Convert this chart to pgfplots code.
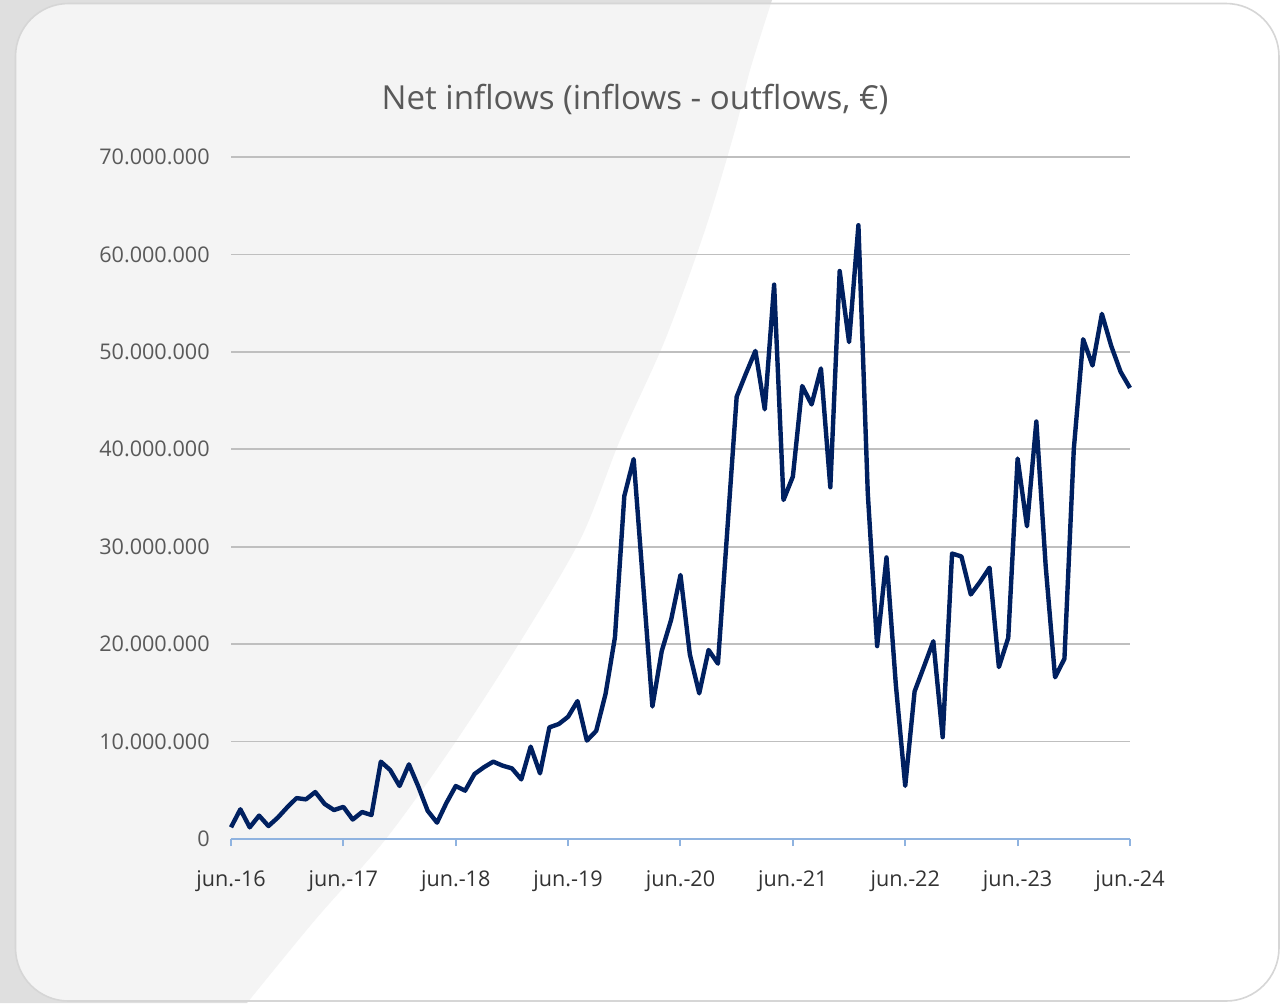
\documentclass[border=0pt]{standalone}
\usepackage{pgfplots}
\pgfplotsset{compat=1.18}
\usepackage{fontspec}
\setmainfont{Open Sans}
\definecolor{navy}{HTML}{002060}
\definecolor{axisblue}{HTML}{8FB3E0}
\definecolor{gridgrey}{HTML}{BFBFBF}
\definecolor{labgrey}{HTML}{595959}
\definecolor{xlab}{HTML}{333333}
\definecolor{outergrey}{HTML}{DFDFDF}
\definecolor{innergrey}{HTML}{F4F4F4}
\definecolor{cardborder}{HTML}{D6D6D6}
\begin{document}
\begin{tikzpicture}
\begin{scope}[x=0.5pt,y=-0.5pt]
\path[use as bounding box] (0,0) rectangle (1281,1003);
\fill[white] (0,0) rectangle (1281,1003);
\fill[outergrey] (0,0) -- plot[smooth] coordinates {(772,0) (750,70) (735,130) (705,230) (665,340) (620,440) (580,540) (515,650) (450,750) (385,840) (315,920) (247,1003)} -- (0,1003) -- cycle;
\begin{scope}
\clip[rounded corners=26.5pt] (15.5,3.5) rectangle (1279,1001);
\fill[white] (0,0) rectangle (1281,1003);
\fill[innergrey] (0,0) -- plot[smooth] coordinates {(772,0) (750,70) (735,130) (705,230) (665,340) (620,440) (580,540) (515,650) (450,750) (385,840) (315,920) (247,1003)} -- (0,1003) -- cycle;
\end{scope}
\draw[cardborder, line width=0.8pt, rounded corners=26.5pt] (15.5,3.5) rectangle (1279,1001);
\node[anchor=base, text=labgrey, font=\fontsize{16.55}{19}\selectfont, inner sep=0pt] at (635,109.3) {Net inflows (inflows - outflows, €)};
\end{scope}
\begin{axis}[
  at={(115.5pt,-419.5pt)}, anchor=south west,
  scale only axis, width=449.5pt, height=341pt,
  xmin=0, xmax=96, ymin=0, ymax=70,
  clip=false,
  axis lines*=left,
  x axis line style={draw=axisblue, line width=1pt},
  y axis line style={draw=none},
  xtick={0,12,24,36,48,60,72,84,96},
  xticklabels={jun.-16,jun.-17,jun.-18,jun.-19,jun.-20,jun.-21,jun.-22,jun.-23,jun.-24},
  ytick={0,10,20,30,40,50,60,70},
  yticklabels={0,10.000.000,20.000.000,30.000.000,40.000.000,50.000.000,60.000.000,70.000.000},
  tick align=outside,
  major tick length=3.5pt,
  x tick style={draw=axisblue, line width=1pt},
  y tick style={draw=none},
  ymajorgrids,
  grid style={draw=gridgrey, line width=0.9pt},
  xticklabel style={anchor=base, inner sep=0pt, yshift=-20pt, text=xlab, font=\fontsize{10.8}{13}\selectfont},
  yticklabel style={anchor=east, inner sep=0pt, xshift=-7pt, text=labgrey, font=\fontsize{10.8}{13}\selectfont},
]
\addplot[navy, line width=2.2pt, line join=round, no marks] table {
x y
0 1.2
1 3.05
2 1.2
3 2.4
4 1.33
5 2.2
6 3.25
7 4.2
8 4.07
9 4.82
10 3.6
11 2.97
12 3.3
13 2.0
14 2.77
15 2.46
16 7.94
17 7.08
18 5.44
19 7.66
20 5.4
21 2.9
22 1.68
23 3.7
24 5.44
25 4.96
26 6.67
27 7.36
28 7.94
29 7.53
30 7.25
31 6.12
32 9.48
33 6.74
34 11.46
35 11.8
36 12.55
37 14.16
38 10.1
39 11.1
40 14.9
41 20.7
42 35.2
43 39.0
44 26.3
45 13.6
46 19.3
47 22.5
48 27.1
49 18.95
50 14.95
51 19.4
52 18.0
53 31.7
54 45.4
55 47.8
56 50.1
57 44.1
58 56.9
59 34.8
60 37.2
61 46.5
62 44.6
63 48.3
64 36.1
65 58.3
66 51.0
67 63.0
68 35.5
69 19.8
70 28.9
71 15.8
72 5.45
73 15.15
74 17.7
75 20.3
76 10.45
77 29.3
78 29.0
79 25.1
80 26.4
81 27.85
82 17.65
83 20.65
84 39.05
85 32.1
86 42.85
87 28.0
88 16.6
89 18.5
90 40.0
91 51.3
92 48.6
93 53.9
94 50.6
95 47.95
96 46.3
};
\end{axis}
\end{tikzpicture}
\end{document}
